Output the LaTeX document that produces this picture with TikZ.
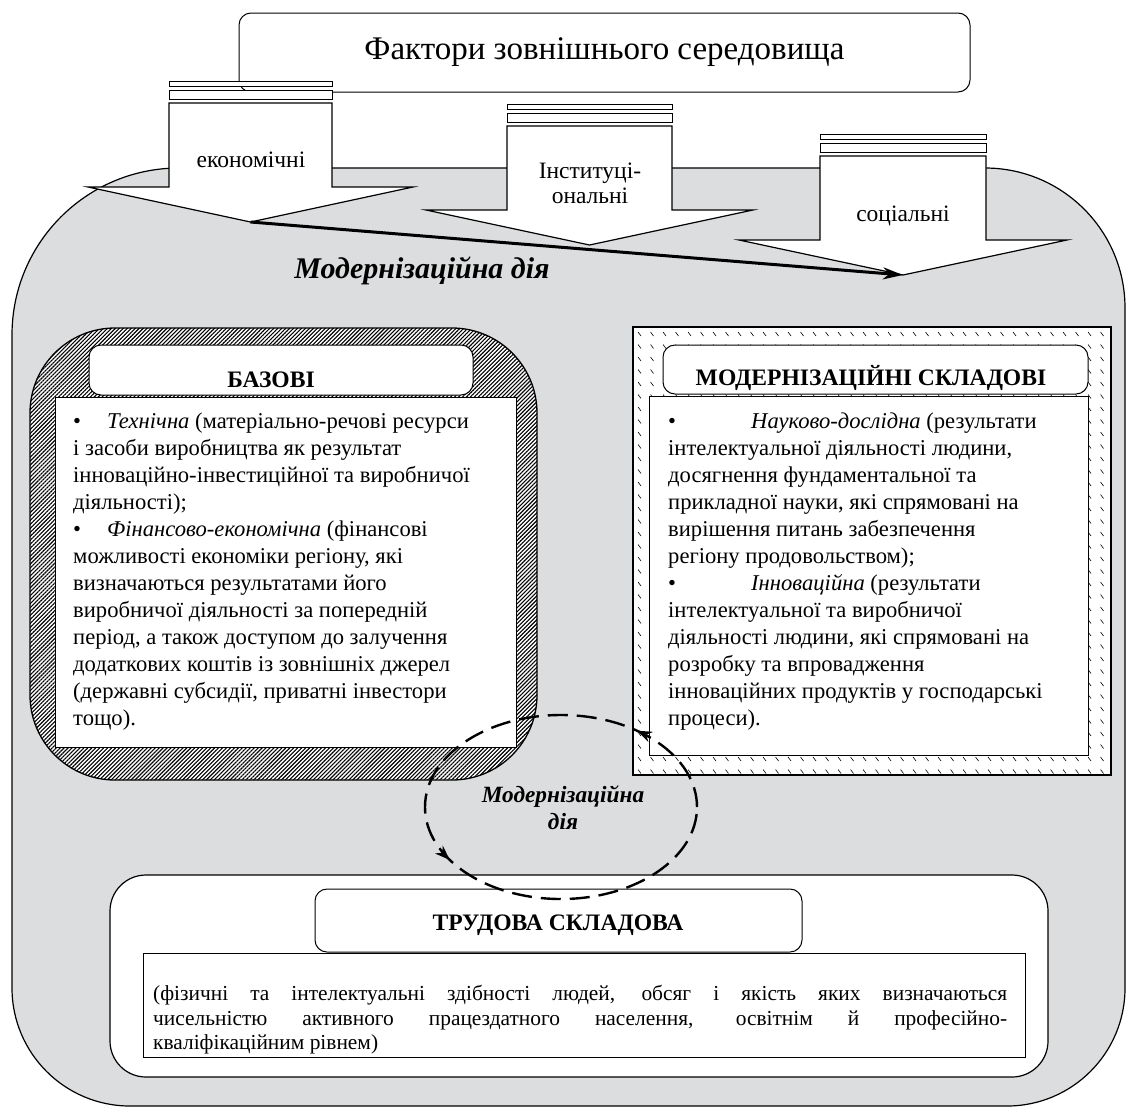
\documentclass[tikz,border=0pt]{standalone}
\usepackage{fontspec}
\setmainfont{Liberation Serif}
\usetikzlibrary{patterns.meta,decorations.markings,arrows.meta}
\definecolor{bggray}{RGB}{220,221,222}
\begin{document}
\begin{tikzpicture}[x=1pt,y=-1pt,line join=miter,
  txt/.style={inner sep=0pt, font=\fontsize{22.6}{27}\selectfont},
  lbl/.style={inner sep=0pt, font=\fontsize{23.5}{25}\selectfont, align=center},
  hdrbox/.style={draw, fill=white, line width=1pt, rounded corners=12pt, inner sep=0pt},
  cbox/.style={draw, fill=white, line width=1pt, inner sep=0pt},
  hdrtext/.style={inner sep=0pt, font=\fontsize{23.6}{26}\selectfont\bfseries},
  modtext/.style={inner sep=0pt, align=center},
  tipstyle/.style={-{Stealth[length=20pt,width=12pt]}}
]
\useasboundingbox (0,0) rectangle (1132,1109);
% background region
\path[draw, fill=bggray, line width=1.2pt] (12,600) [rounded corners=167pt] |- (600,168) [rounded corners=140pt] -| (1125,600) [rounded corners=118pt] |- (600,1106) -| (12,600) -- cycle;

% title
\node[hdrbox, minimum width=731pt, minimum height=79pt, font=\fontsize{33}{36}\selectfont] (title) at (604.5,52.5) {Фактори зовнішнього середовища};

% block arrows
\foreach \L/\R/\T/\nm in {169/332/81/econ, 507/672/104/inst, 820/986/134/soc}{
  \pgfmathsetmacro{\C}{(\L+\R)/2}
  \draw[fill=white, line width=1pt] (\L,\T) rectangle (\R,{\T+5});
  \draw[fill=white, line width=1pt] (\L,{\T+9}) rectangle (\R,{\T+18});
  \draw[fill=white, line width=1.2pt] (\L,{\T+22}) -- (\R,{\T+22}) -- (\R,{\T+106}) -- ({\R+81},{\T+106}) -- (\C,{\T+141}) -- ({\L-81},{\T+106}) -- (\L,{\T+106}) -- cycle;
  \coordinate (\nm tip) at (\C,{\T+141});
}
\node[lbl] (econlbl) at (251,160) {економічні};
\node[lbl] (instlbl) at (590,183) {Інституці-\\ональні};
\node[lbl] (soclbl) at (903,216) {соціальні};

\draw[line width=3pt, tipstyle] (econtip) -- (soctip);
\node[modtext, font=\fontsize{30}{32}\selectfont\bfseries\itshape] (moddia) at (422,271) {Модернізаційна дія};

% left frame
\node[draw, fill=white, line width=1.3pt, rounded corners=85pt, minimum width=507pt, minimum height=452pt, inner sep=0pt,
  postaction={pattern={Lines[angle=45,distance=2.8pt,line width=1.1pt]}}] (bazframe) at (283.5,554) {};
\node[hdrbox, minimum width=384pt, minimum height=50pt] (bazhdr) at (281,370) {};
\node[cbox, minimum width=461pt, minimum height=350pt] (bazbody) at (285.5,572) {};
\node[hdrtext] (bazhdrtxt) at (271,380) {БАЗОВІ};
\node[txt, anchor=north west, align=left] (baztxt) at (73,412.5) {%
\makebox[34pt][l]{•}\textit{Технічна} (матеріально-речові ресурси\\
і засоби виробництва як результат\\
інноваційно-інвестиційної та виробничої\\
діяльності);\\
\makebox[34pt][l]{•}\textit{Фінансово-економічна} (фінансові\\
можливості економіки регіону, які\\
визначаються результатами його\\
виробничої діяльності за попередній\\
період, а також доступом до залучення\\
додаткових коштів із зовнішніх джерел\\
(державні субсидії, приватні інвестори\\
тощо).};

% right frame
\node[draw, fill=white, line width=1.3pt, minimum width=478pt, minimum height=448pt, inner sep=0pt] (modframe) at (872,551) {};
\draw[line width=0.6pt] foreach \x in {638,650.5,...,1106} {foreach \y in {332,344.5,...,770} {(\x,\y) -- ++(3,4)}};
\node[hdrbox, minimum width=425pt, minimum height=49pt] (modhdr) at (875.5,369.5) {};
\node[cbox, minimum width=439pt, minimum height=359pt] (modbody) at (868.5,575.5) {};
\node[hdrtext] (modhdrtxt) at (871,378) {МОДЕРНІЗАЦІЙНІ СКЛАДОВІ};
\node[txt, anchor=north west, align=left] (modtxt) at (668,412.5) {%
\makebox[83pt][l]{•}\textit{Науково-дослідна} (результати\\
інтелектуальної діяльності людини,\\
досягнення фундаментальної та\\
прикладної науки, які спрямовані на\\
вирішення питань забезпечення\\
регіону продовольством);\\
\makebox[83pt][l]{•}\textit{Інноваційна} (результати\\
інтелектуальної та виробничої\\
діяльності людини, які спрямовані на\\
розробку та впровадження\\
інноваційних продуктів у господарські\\
процеси).};

% bottom
\node[draw, fill=white, line width=1.2pt, rounded corners=36pt, minimum width=938pt, minimum height=202pt, inner sep=0pt] (trudframe) at (579,976) {};
\node[hdrbox, minimum width=487pt, minimum height=63pt] (trudhdr) at (558.5,920.5) {};
\node[cbox, minimum width=882pt, minimum height=104pt] (trudbody) at (584,1005) {};
\node[hdrtext] (trudhdrtxt) at (558,925) {ТРУДОВА СКЛАДОВА};
\node[inner sep=0pt, anchor=north west, text width=854pt, align=justify, font=\fontsize{21.4}{24.5}\selectfont] (trudtxt) at (153,985) {\hyphenpenalty=10000 (фізичні та інтелектуальні здібності людей, обсяг і якість яких визначаються\linebreak чисельністю активного працездатного населення, освітнім й професійно-\linebreak кваліфікаційним рівнем)};

% dashed ellipse
\draw[line width=2.4pt, dash pattern=on 20pt off 9pt, postaction={decorate},
  decoration={markings,
    mark=at position 0.142 with {\arrow{Stealth[length=15pt,width=11pt]}},
    mark=at position 0.583 with {\arrow{Stealth[length=15pt,width=11pt]}}}]
  (697,807) arc[start angle=0, end angle=-360, x radius=136, y radius=92];
\node[modtext, font=\fontsize{23.3}{27}\selectfont\bfseries\itshape] (ellipsetxt) at (563,808) {Модернізаційна\\дія};
\end{tikzpicture}
\end{document}
